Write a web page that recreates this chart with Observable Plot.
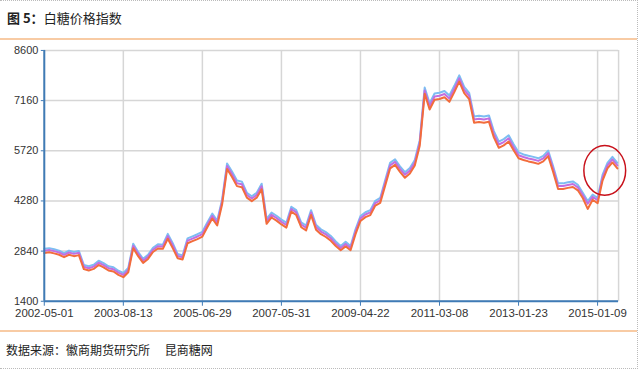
<!DOCTYPE html>
<html><head><meta charset="utf-8">
<script src="https://cdn.jsdelivr.net/npm/d3@7"></script>
<script src="https://cdn.jsdelivr.net/npm/@observablehq/plot@0.6"></script>
<style>
html,body{margin:0;padding:0;background:#fff;}
#wrap{position:relative;width:637px;border-top:1px dotted #bbb;border-right:1px dotted #bbb;border-bottom:1px dotted #bbb;font-family:"Noto Sans CJK SC","Noto Sans",sans-serif;color:#222;}
#title{height:37px;line-height:34px;padding-left:7px;font-size:13px;border-bottom:2px solid #f8cba4;}
#title b{font-weight:bold;}
#chart{height:290px;}
#chart svg{display:block;}
#cap{border-top:2px solid #f8cba4;height:36px;line-height:36px;padding-left:6px;font-size:12px;white-space:pre;}
</style>
</head><body>
<div id="wrap">
<div id="title"><b>图 5：</b>白糖价格指数</div>
<div id="chart"></div>
<div id="cap">数据来源：徽商期货研究所　 昆商糖网</div>
</div>
<script>
const tickLabels = ["2002-05-01","2003-08-13","2005-06-29","2007-05-31","2009-04-22","2011-03-08","2013-01-23","2015-01-09"];
const tickStep = 16;
const yTicks = [1400, 2840, 4280, 5720, 7160, 8600];

const blue = [2905,2925,2895,2855,2785,2855,2815,2845,2445,2405,
2449,2563,2495,2403,2375,2277,2211,2355,3050,2815,
2621,2735,2935,3035,3025,3335,3065,2755,2718,3205,
3265,3325,3395,3665,3915,3715,4323,5355,5125,4865,
4835,4515,4415,4515,4775,3765,3945,3855,3745,3655,
4115,4015,3665,3575,4015,3595,3465,3385,3275,3115,
2985,3105,2985,3465,3845,3955,4015,4285,4365,4875,
5375,5475,5275,5105,5225,5455,6025,7535,7085,7365,
7385,7435,7305,7585,7885,7555,7385,6705,6725,6705,
6735,6285,5985,6055,6165,5905,5675,5615,5575,5545,
5505,5575,5725,5275,4785,4785,4815,4840,4745,4515,
4275,4465,4365,5025,5375,5545,5375];

const purple = [2850,2870,2840,2800,2730,2800,2760,2790,2390,2350,
2394,2508,2440,2348,2320,2222,2156,2300,2990,2760,
2566,2680,2880,2980,2970,3270,3000,2700,2663,3140,
3200,3260,3330,3600,3850,3650,4258,5280,5050,4790,
4760,4450,4350,4450,4700,3700,3880,3790,3680,3590,
4050,3950,3600,3510,3950,3530,3400,3320,3210,3050,
2930,3040,2930,3400,3780,3890,3950,4220,4300,4800,
5300,5400,5200,5030,5150,5380,5950,7450,7000,7280,
7300,7350,7220,7500,7800,7470,7300,6620,6640,6620,
6650,6200,5900,5970,6080,5820,5590,5540,5500,5470,
5430,5500,5650,5200,4710,4710,4740,4765,4670,4450,
4200,4400,4300,4950,5300,5470,5300];

const orange = [2785,2805,2775,2735,2665,2735,2695,2725,2325,2285,
2329,2443,2375,2283,2255,2157,2091,2235,2925,2695,
2501,2615,2815,2915,2905,3195,2925,2635,2598,3065,
3125,3185,3255,3525,3775,3575,4183,5195,4965,4705,
4675,4375,4275,4375,4615,3625,3805,3715,3605,3515,
3975,3875,3525,3435,3875,3455,3325,3245,3135,2985,
2865,2975,2865,3325,3705,3815,3875,4145,4225,4715,
5215,5315,5115,4945,5065,5295,5865,7355,6905,7185,
7205,7255,7125,7405,7705,7375,7205,6525,6545,6525,
6555,6105,5805,5875,5985,5735,5505,5455,5415,5385,
5345,5415,5565,5115,4625,4625,4655,4680,4585,4365,
4050,4315,4215,4865,5215,5385,5215];

const highlight = {i: 113.55, v: 5140};

const rows = s => s.map((v, i) => ({i, v}));
const xTicks = tickLabels.map((_, k) => k * tickStep);
const xEnd = 116.25;
const axisBlue = "#3f7bb6";
const gridGray = "#d6d6d6";

const plot = Plot.plot({
  width: 640, height: 290,
  marginLeft: 44, marginRight: 19, marginTop: 10, marginBottom: 28,
  style: {fontFamily: "'Liberation Sans', Arial, sans-serif", fontSize: "11px", color: "#333", background: "#fff"},
  x: {type: "linear", domain: [0, xEnd]},
  y: {domain: [1400, 8600]},
  marks: [
    Plot.gridY(yTicks, {stroke: gridGray, strokeOpacity: 1, strokeWidth: 1.5}),
    Plot.gridX(xTicks, {stroke: gridGray, strokeOpacity: 1, strokeWidth: 1.5}),
    Plot.ruleX([xEnd], {stroke: gridGray, strokeWidth: 1.5}),
    Plot.lineY(rows(blue), {x: "i", y: "v", stroke: "#7dbdf2", strokeWidth: 2}),
    Plot.lineY(rows(purple), {x: "i", y: "v", stroke: "#c26ee0", strokeWidth: 2}),
    Plot.lineY(rows(orange), {x: "i", y: "v", stroke: "#f26c3c", strokeWidth: 2}),
    Plot.ruleX([0], {stroke: axisBlue, strokeWidth: 2}),
    Plot.ruleY([1400], {stroke: axisBlue, strokeWidth: 2}),
    Plot.axisY(yTicks, {tickSize: 3, tickPadding: 3, stroke: axisBlue, fill: "#333", label: null,
      tickFormat: d => String(d)}),
    Plot.axisX(xTicks, {tickSize: 5, tickPadding: 3, stroke: axisBlue, fill: "#333", label: null, fontSize: 11.5,
      tickFormat: d => tickLabels[Math.round(d / tickStep)]})
  ]
});

const sx = plot.scale("x"), sy = plot.scale("y");
d3.select(plot).append("ellipse")
  .attr("cx", sx.apply(highlight.i))
  .attr("cy", sy.apply(highlight.v))
  .attr("rx", 21).attr("ry", 25)
  .attr("fill", "none").attr("stroke", "#c8101a").attr("stroke-width", 1.5);

document.getElementById("chart").appendChild(plot);
</script>
</body></html>
